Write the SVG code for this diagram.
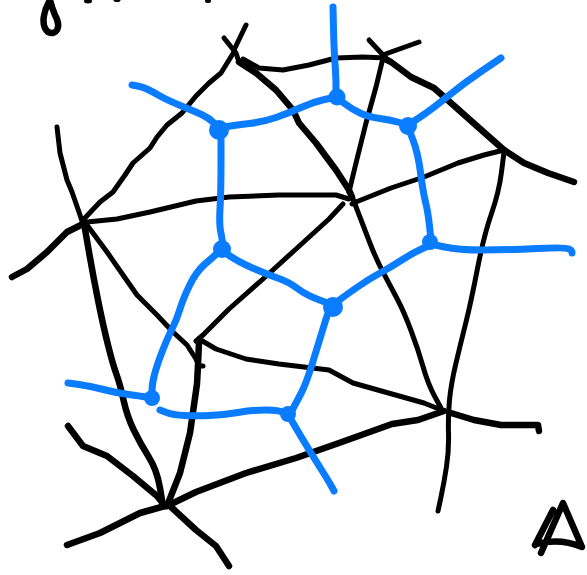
<svg xmlns="http://www.w3.org/2000/svg" width="587" height="575" viewBox="0 0 587 575">
<style>
.k{fill:none;stroke:#000;stroke-width:5;stroke-linecap:round;stroke-linejoin:round}
.kt{fill:none;stroke:#000;stroke-width:6.5;stroke-linecap:round;stroke-linejoin:round}
.b{fill:none;stroke:#0a7cff;stroke-width:7;stroke-linecap:round;stroke-linejoin:round}
.v{fill:#0a7cff}
</style>
<rect width="587" height="575" fill="#fff"/>
<g id="scribbles">
<path class="kt" d="M50,0 C44,10 40,25 48,32 C56,36 62,28 55,15 C52,8 51,4 50,0"/>
<ellipse cx="88" cy="1" rx="4" ry="2.5" fill="#000"/>
<ellipse cx="117" cy="0" rx="3.5" ry="2" fill="#000"/>
<ellipse cx="208" cy="1" rx="3" ry="2" fill="#000"/>
<path class="kt" d="M553,510 L535,545 M536,544 Q560,538 582,547 L563,503 L541,553"/>
</g>
<g id="connectors">
<g id="delaunay">
<path class="k" d="M224,38 L236,53 L239,62"/>
<path class="k" d="M246,25 L234,50"/>
<path class="k" d="M234,52 L229,60 L221,73 L209,83 L196,96 L182,113 L167,125 L157,137 L150,148 L133,163 L125,175 L113,192 L100,202 L83,220"/>
<path class="k" d="M243,59 L259,68 L283,70 L309,65 L336,58 L363,57 L386,58"/>
<path class="k" d="M369,40 L383,55 M383,55 L391,52 L419,42"/>
<path class="kt" d="M239,62 L256,73 L276,90 L293,110 L299,123 L316,143 L336,170 L349,190 L352,197"/>
<path class="k" d="M383,58 L376,87 L366,123 L356,163 L349,192"/>
<path class="kt" d="M383,58 L391,62 L411,77 L434,88 L451,103 L478,127 L504,150"/>
<path class="kt" d="M504,150 L524,163 L548,173 L574,182"/>
<path class="k" d="M352,204 L356,202 L391,188 L424,177 L458,163 L484,155 L504,150"/>
<path class="k" d="M504,152 L501.5,172 Q499,192 491.5,213.5 Q484,235 477.5,268.5 Q471,302 466,322 Q461,342 456,363 Q451,384 449.5,400 Q448,416 448.5,433 Q449,450 446.5,466.5 Q444,483 441,497 L438,511"/>
<path class="k" d="M83,223 L87,222 L117,219 L150,212 L196,201 L229,197 L279,195 L336,195 L349,199"/>
<path class="k" d="M57,127 L60,153 L67,180 L72,192 L80,215 L83,224"/>
<path class="kt" d="M83,224 L67,232 L47,252 L27,269 L12,277"/>
<path class="kt" d="M85,229 L89,252 Q93,275 98,300 Q103,325 108,345 Q113,365 116.5,374.5 Q120,384 123.5,400 Q127,416 133.5,429.5 Q140,443 148.5,456.5 Q157,470 160,488 L163,506"/>
<path class="k" d="M87,225 L107,252 L123,275 L137,295 L157,315 L173,332 L187,345 L196,359 L199,366 L203,366"/>
<path class="k" d="M343,204 L329,219 L296,249 L263,279 L229,309 L203,335 L196,341"/>
<path class="k" d="M353,199 L358,212 Q363,225 369.5,242 Q376,259 384,274 Q392,289 398,300.5 Q404,312 411,330.5 Q418,349 423,366.5 Q428,384 434.5,396 L441,408"/>
<path class="k" d="M199,339 L216,349 L246,359 L279,364 L329,370 L353,383 L392,394 L424,403 L444,411"/>
<path class="kt" d="M199,342 L198,365 L197,384 L190,433 L180,473 L167,506"/>
<path class="kt" d="M444,411 L418,420 L392,424 L339,443 L296,458 L246,473 L196,492 L167,506"/>
<path class="kt" d="M451,413 L474,420 L501,425 L538,425 L539,431"/>
<path class="kt" d="M165,506 L140,513 L100,533 L67,545"/>
<path class="kt" d="M68,426 L83,446 L107,456 L133,476 L157,496 L165,506"/>
<path class="kt" d="M170,506 L196,530 L216,546 L229,566"/>
</g>
<g id="voronoi">
<path class="b" d="M132,85 L137.5,86 Q143,87 148,89.5 Q153,92 160,96 Q167,100 181.5,106 Q196,112 202.5,115 Q209,118 214,123 L219,128"/>
<path class="b" d="M219,128 L227.5,126.5 Q236,125 249.5,123.5 Q263,122 276,117.5 Q289,113 301,107.5 Q313,102 324.5,99.5 L336,97"/>
<path class="b" d="M333,7 L333.5,28.5 Q334,50 335,63.5 Q336,77 336,87 L336,97"/>
<path class="b" d="M336,97 L344.5,103.5 Q353,110 361,113.5 Q369,117 380,118.5 Q391,120 399.5,122.5 L408,125"/>
<path class="b" d="M408,125 L419.5,117.5 Q431,110 447.5,96.5 Q464,83 482.5,70.5 L501,58"/>
<path class="b" d="M408,127 L413,140 Q418,153 420.5,172.5 Q423,192 425.5,202 Q428,212 429.5,226 L431,240"/>
<path class="b" d="M431,244 L444.5,247 Q458,250 483,250 Q508,250 537,248.5 Q566,247 569,249 Q572,250 572,253"/>
<path class="b" d="M430,245 L420.5,249.5 Q411,254 401,260.5 Q391,267 380,273 Q369,279 357.5,287 Q346,295 339.5,300 L333,305"/>
<path class="b" d="M221,130 L221,161 Q221,192 220,208.5 Q219,225 221,233.5 Q223,242 222,246 L221,250"/>
<path class="b" d="M221,250 L230,256 Q239,262 252.5,268 Q266,274 277.5,278 Q289,282 297.5,288.5 Q306,295 319.5,300 L333,305"/>
<path class="b" d="M221,250 L217,253.5 Q213,257 204.5,264.5 Q196,272 189.5,285.5 Q183,299 180,309 Q177,319 172,329 Q167,339 162,352 Q157,365 154.5,374.5 Q152,384 152,391 L152,398"/>
<path class="b" d="M68,383 L79,384.5 Q90,386 103.5,389.5 Q117,393 128.5,394.5 Q140,396 146,397 L152,398"/>
<path class="b" d="M160,410 L166.5,412.5 Q173,415 184.5,415.5 Q196,416 209.5,415.5 Q223,415 238,412.5 Q253,410 266,410 Q279,410 283.5,412.5 L288,415"/>
<path class="b" d="M333,305 L331,307 Q329,309 324,325.5 Q319,342 312.5,363 Q306,384 301,393.5 Q296,403 292.5,409.5 L289,416"/>
<path class="b" d="M289,416 L291,419.5 Q293,423 301,436.5 Q309,450 318.5,465 Q328,480 331,485.5 L334,491"/>
</g>
</g>
<g id="v1"><circle class="v" cx="219" cy="130" r="10"/></g>
<g id="v2"><circle class="v" cx="337" cy="97" r="8.5"/></g>
<g id="v3"><circle class="v" cx="408" cy="126" r="9"/></g>
<g id="v4"><circle class="v" cx="430" cy="242" r="8"/></g>
<g id="v5"><circle class="v" cx="333" cy="307" r="10"/></g>
<g id="v6"><circle class="v" cx="222" cy="249" r="9"/></g>
<g id="v7"><circle class="v" cx="152" cy="398" r="8"/></g>
<g id="v8"><circle class="v" cx="288" cy="414" r="8"/></g>
</svg>
